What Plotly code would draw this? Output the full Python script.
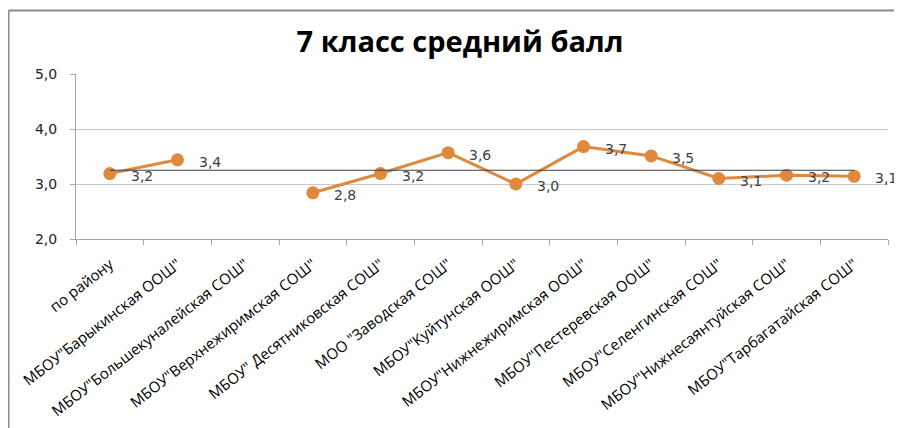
import plotly.graph_objects as go

categories = [
    "по району",
    "МБОУ\"Барыкинская ООШ\"",
    "МБОУ\"Большекуналейская СОШ\"",
    "МБОУ\"Верхнежиримская СОШ\"",
    "МБОУ\" Десятниковская СОШ\"",
    "МОО \"Заводская СОШ\"",
    "МБОУ\"Куйтунская ООШ\"",
    "МБОУ\"Нижнежиримская ООШ\"",
    "МБОУ\"Пестеревская ООШ\"",
    "МБОУ\"Селенгинская СОШ\"",
    "МБОУ\"Нижнесаянтуйская СОШ\"",
    "МБОУ\"Тарбагатайская СОШ\"",
]
scores = [3.19, 3.44, None, 2.84, 3.19, 3.57, 3.0, 3.68, 3.51, 3.1, 3.16, 3.14]
score_labels = ["3,2", "3,4", None, "2,8", "3,2", "3,6", "3,0", "3,7", "3,5", "3,1", "3,2", "3,1"]
reference_line = [3.25, 3.25, 3.25, 3.25, 3.25, 3.25, 3.25, 3.25, 3.25, 3.25, 3.25, 3.25]
y_ticks = [2, 3, 4, 5]
y_tick_labels = ["2,0", "3,0", "4,0", "5,0"]

ORANGE = "#E0883C"

# page body has an 8px margin; figure is sized/offset to compensate
W, H = 894, 420
L, R, T, B = 68, 14, 66, 189
PW, PH = W - L - R, H - T - B

fig = go.Figure()
fig.add_trace(go.Scatter(
    x=categories, y=scores, mode="lines+markers",
    line=dict(color=ORANGE, width=3),
    marker=dict(color=ORANGE, size=13),
    connectgaps=False, showlegend=False, hoverinfo="skip",
))
fig.add_trace(go.Scatter(
    x=categories, y=reference_line, mode="lines",
    line=dict(color="#404040", width=1),
    showlegend=False, hoverinfo="skip",
))

for c, v, t in zip(categories, scores, score_labels):
    if v is None:
        continue
    fig.add_annotation(
        x=c, y=v, text=t, showarrow=False, xanchor="left", yanchor="middle",
        xshift=19, yshift=-2,
        font=dict(family="DejaVu Sans", size=14, color="#404040"),
    )

fx = (0.5 - L) / PW
fy = 1 + (T - 2.5) / PH
fig.add_shape(type="line", xref="paper", yref="paper",
              x0=fx, x1=1.5, y0=fy, y1=fy,
              line=dict(color="#8c8c8c", width=2))
fig.add_shape(type="line", xref="paper", yref="paper",
              x0=fx, x1=fx, y0=fy, y1=-2,
              line=dict(color="#8c8c8c", width=2))

fig.update_layout(
    width=W, height=H,
    margin=dict(l=L, r=R, t=T, b=B),
    paper_bgcolor="white", plot_bgcolor="white",
    title=dict(text="<b>7 класс средний балл</b>", x=(460 - 8) / W, xanchor="center",
               y=1 - (42 - 8) / H, yanchor="middle",
               font=dict(family="Open Sans", size=29, color="#000000")),
    xaxis=dict(
        type="category", range=[-0.5, 11.5], tickson="boundaries",
        ticks="outside", ticklen=5, tickcolor="#a6a6a6",
        showline=True, linecolor="#a6a6a6", linewidth=1,
        showgrid=False, tickangle=-38, automargin=False,
        ticklabelstandoff=10,
        tickfont=dict(family="Open Sans", size=15, color="#000000"),
    ),
    yaxis=dict(
        range=[2, 5], tickvals=y_ticks, ticktext=y_tick_labels,
        ticks="outside", ticklen=5, tickcolor="#a6a6a6",
        showline=True, linecolor="#a6a6a6", linewidth=1,
        showgrid=True, gridcolor="#c8c8c8", gridwidth=1,
        zeroline=False, automargin=False, ticklabelstandoff=10,
        tickfont=dict(family="DejaVu Sans", size=14, color="#222222"),
    ),
)

fig.write_html("out.html")
